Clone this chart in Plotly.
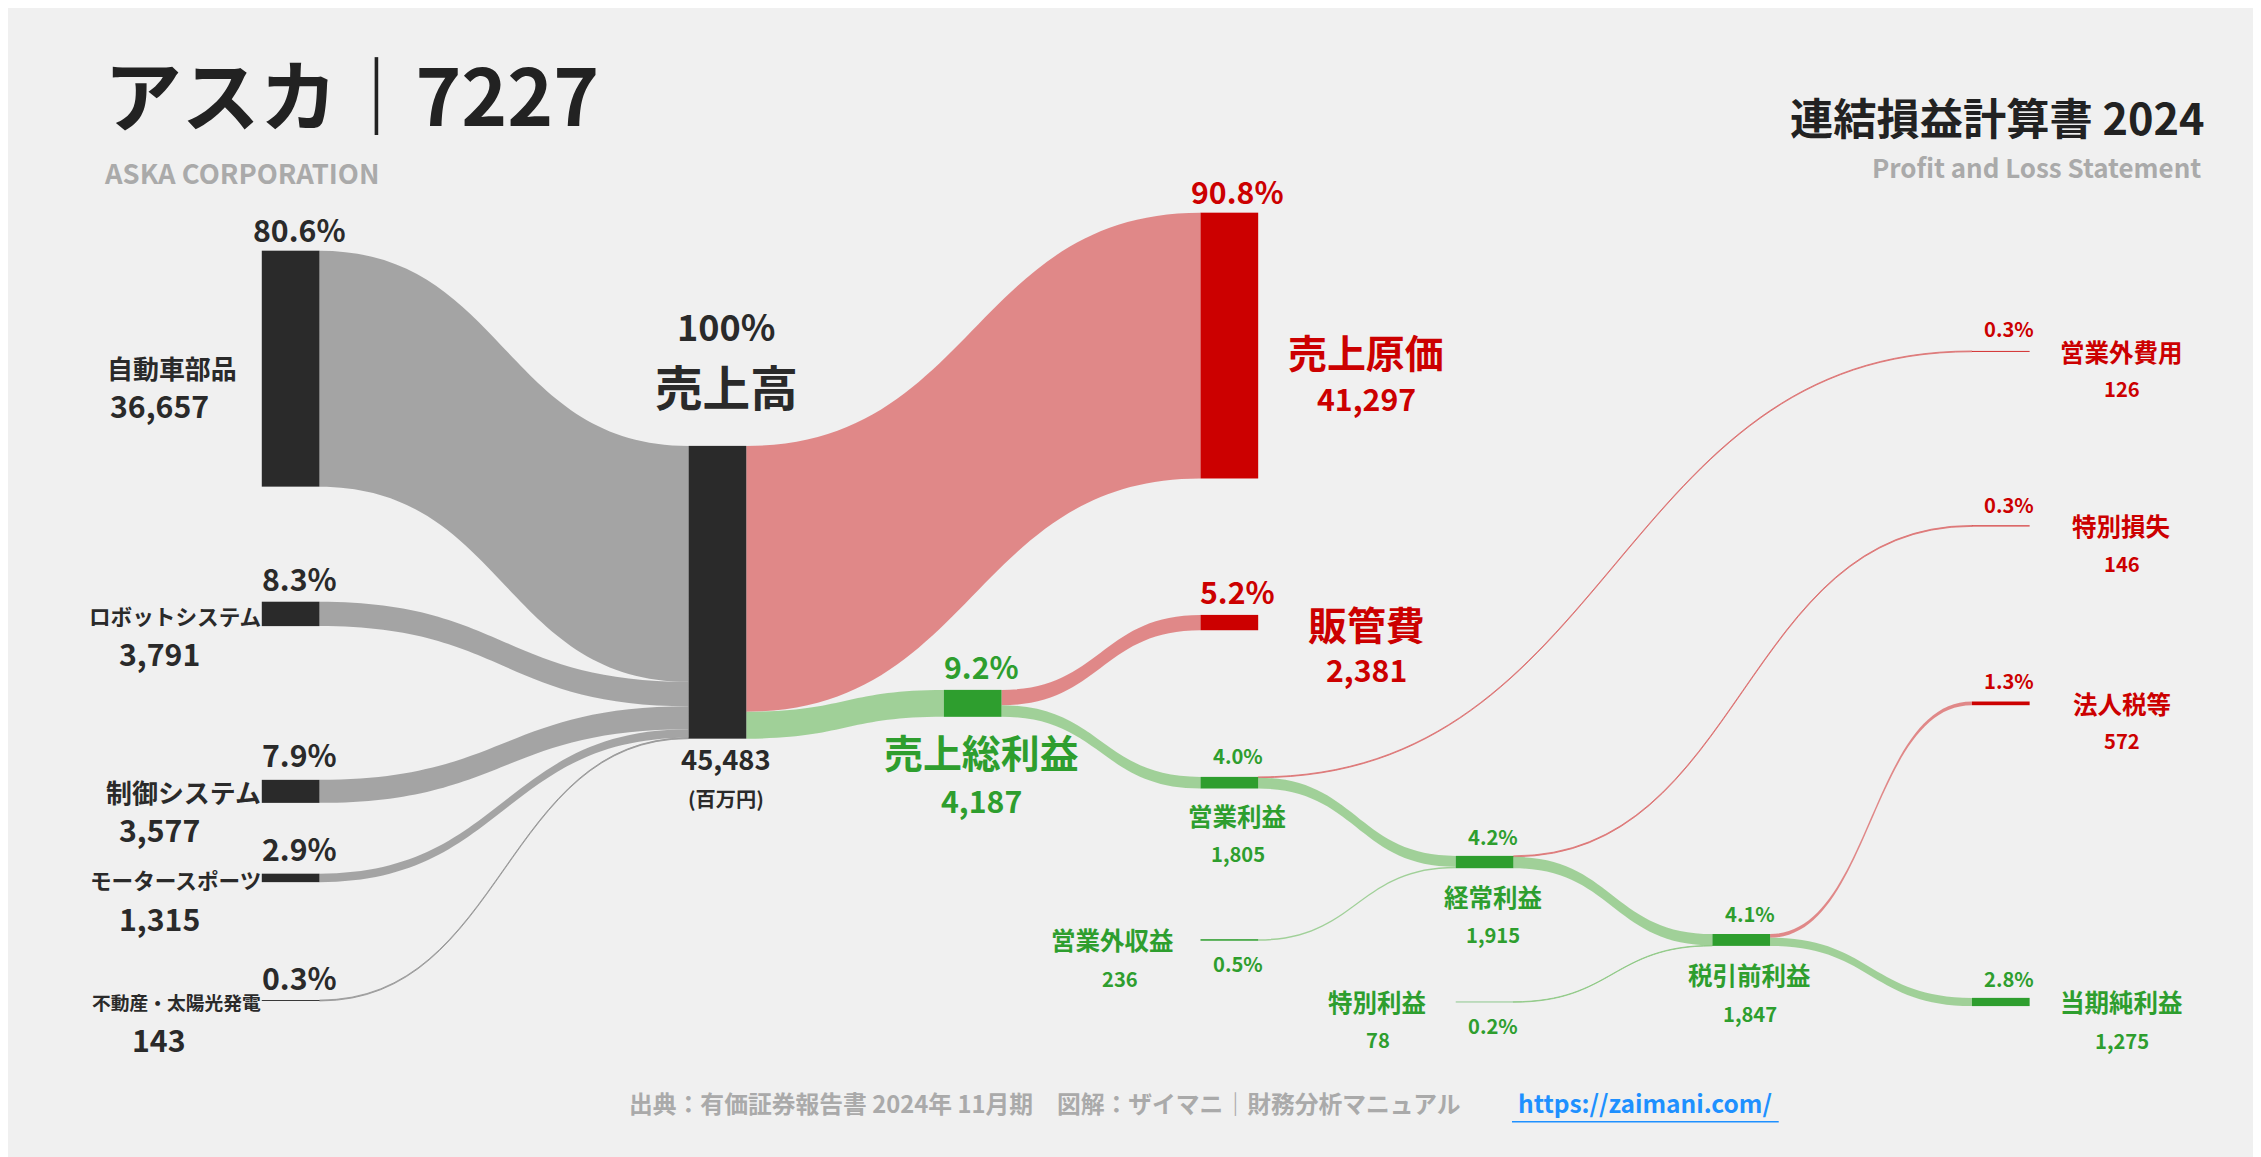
import plotly.graph_objects as go

W, H = 2261, 1157
RW, RH = 1568, 802
S = W / RW

# ---- data ----
node_names = ["自動車部品", "ロボットシステム", "制御システム", "モータースポーツ", "不動産・太陽光発電",
              "売上高", "売上原価", "売上総利益", "販管費", "営業利益", "営業外収益", "営業外費用",
              "経常利益", "特別利益", "特別損失", "税引前利益", "法人税等", "当期純利益"]
link_src = [0, 1, 2, 3, 4, 5, 5, 7, 7, 9, 9, 10, 12, 12, 13, 15, 15]
link_tgt = [5, 5, 5, 5, 5, 6, 7, 8, 9, 11, 12, 12, 14, 15, 15, 16, 17]
link_val = [36657, 3791, 3577, 1315, 143, 41297, 4187, 2381, 1805, 126, 1679, 236, 146, 1769, 78, 572, 1275]
pct_labels = ["80.6%", "8.3%", "7.9%", "2.9%", "0.3%", "100%", "90.8%", "9.2%", "5.2%", "4.0%", "0.5%",
              "0.3%", "4.2%", "0.2%", "0.3%", "4.1%", "1.3%", "2.8%"]
amount_labels = ["36,657", "3,791", "3,577", "1,315", "143", "45,483", "41,297", "4,187", "2,381", "1,805",
                 "236", "126", "1,915", "78", "146", "1,847", "572", "1,275"]

# layout (reference pixel centres)
node_cx = [196, 196, 196, 196, 196, 492, 847, 669, 847, 847, 847, 1382, 1024, 1024, 1382, 1202, 1382, 1382]
node_cy = [250, 420, 543, 603, 688, 405, 234, 482, 426, 537, 646, 238, 592, 689, 359, 646, 482, 689]

DOM_TOP, DOM_H = 109, 613  # reference px of sankey domain

DARK, RED, GREEN = "#2a2a2a", "#cc0000", "#2e9e2e"
node_col = [DARK] * 6 + [RED, GREEN, RED, GREEN, GREEN, RED, GREEN, GREEN, RED, GREEN, RED, GREEN]
GREY_L, RED_L, GREEN_L = "rgba(150,150,150,0.85)", "rgba(220,110,110,0.8)", "rgba(140,200,130,0.8)"
link_col = [GREY_L] * 5 + [RED_L, GREEN_L, RED_L, GREEN_L, RED_L, GREEN_L, GREEN_L, RED_L, GREEN_L,
                           GREEN_L, RED_L, GREEN_L]

fig = go.Figure(go.Sankey(
    arrangement="fixed",
    domain=dict(x=[0, 1], y=[1 - (DOM_TOP + DOM_H) / RH, 1 - DOM_TOP / RH]),
    node=dict(label=[""] * len(node_names), color=node_col, thickness=40 * S, pad=260,
              x=[c / RW for c in node_cx], y=[(c - DOM_TOP) / DOM_H for c in node_cy],
              line=dict(width=0)),
    link=dict(source=link_src, target=link_tgt, value=link_val, color=link_col),
    hoverinfo="skip",
))

FONT = "Noto Sans CJK JP"
ann = []


def T(x, y, text, size, color=DARK, anchor="center", bold=True):
    t = f"<b>{text}</b>" if bold else text
    ann.append(dict(x=x / RW, y=1 - y / RH, xref="paper", yref="paper", text=t, showarrow=False,
                    xanchor=anchor, yanchor="middle", font=dict(size=size * S, color=color, family=FONT)))


T(65, 58, "アスカ｜7227", 54, "#222", "left")
T(65, 114, "ASKA CORPORATION", 19, "#aaa", "left")
T(1525, 75, "連結損益計算書 2024", 30, "#222", "right")
T(1522, 110, "Profit and Loss Statement", 18, "#aaa", "right")

# segments
seg_pct_y = [153, 395, 517, 582, 672]
seg_name_y = [249, 421, 543, 604, 689]
seg_amt_y = [275, 447, 569, 631, 715]
seg_name_size = [18, 15, 18, 15, 13]
for i in range(5):
    T(202, seg_pct_y[i], pct_labels[i], 21)
    T(177 if i else 160, seg_name_y[i], node_names[i], seg_name_size[i], anchor="right")
    T(105, seg_amt_y[i], amount_labels[i], 21)

T(498, 220, pct_labels[5], 25)
T(498, 262, node_names[5], 33)
T(498, 520, amount_labels[5], 19)
T(498, 548, "(百万円)", 14)

T(853, 127, pct_labels[6], 21, RED)
T(942, 238, node_names[6], 27, RED)
T(942, 270, amount_labels[6], 21, RED)
T(853, 404, pct_labels[8], 21, RED)
T(942, 426, node_names[8], 27, RED)
T(942, 458, amount_labels[8], 21, RED)

T(675, 456, pct_labels[7], 21, GREEN)
T(675, 515, node_names[7], 27, GREEN)
T(675, 549, amount_labels[7], 21, GREEN)

small = [(9, 853, 518, 560, 586), (12, 1030, 574, 616, 642), (15, 1208, 628, 670, 697)]
for i, x, yp, yn, ya in small:
    T(x, yp, pct_labels[i], 14, GREEN)
    T(x, yn, node_names[i], 17, GREEN)
    T(x, ya, amount_labels[i], 14, GREEN)

T(766, 646, node_names[10], 17, GREEN)
T(771, 673, amount_labels[10], 14, GREEN)
T(853, 662, pct_labels[10], 14, GREEN)
T(950, 689, node_names[13], 17, GREEN)
T(950, 715, amount_labels[13], 14, GREEN)
T(1030, 705, pct_labels[13], 14, GREEN)

right = [(11, 222, 238, 264, RED), (14, 344, 359, 385, RED), (16, 466, 482, 508, RED), (17, 673, 689, 716, GREEN)]
for i, yp, yn, ya, c in right:
    T(1388, yp, pct_labels[i], 14, c)
    T(1466, yn, node_names[i], 17, c)
    T(1466, ya, amount_labels[i], 14, c)

T(719, 759, "出典：有価証券報告書 2024年 11月期　図解：ザイマニ｜財務分析マニュアル", 16.5, "#aaa")
T(1135, 759, "https://zaimani.com/", 17, "#1e90ff")

fig.update_layout(width=W, height=H, margin=dict(l=0, r=0, t=0, b=0),
                  paper_bgcolor="#f0f0f0", plot_bgcolor="#f0f0f0",
                  font=dict(family=FONT), annotations=ann,
                  shapes=[dict(type="line", xref="paper", yref="paper", x0=1043 / RW, x1=1228 / RW,
                               y0=1 - 772 / RH, y1=1 - 772 / RH, line=dict(color="#1e90ff", width=1.5))])
fig.write_html("out.html")
